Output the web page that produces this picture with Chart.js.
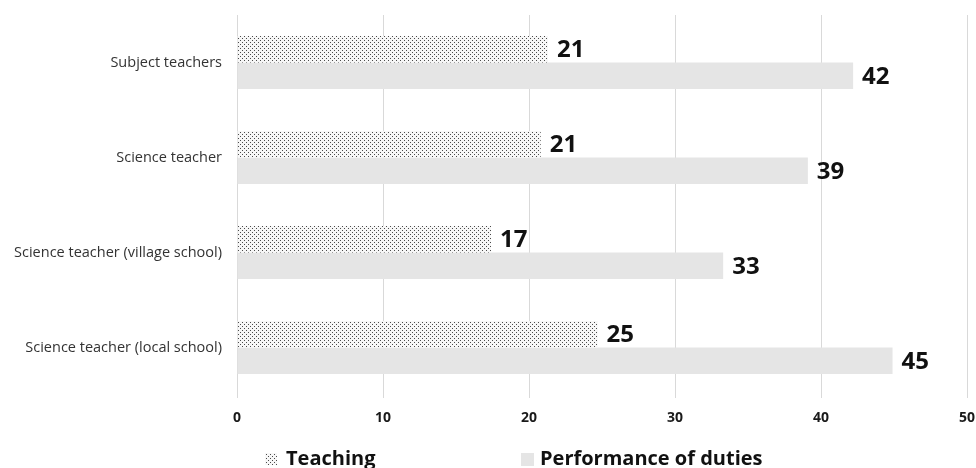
<!DOCTYPE html>
<html>
<head>
<meta charset="utf-8">
<script src="https://cdn.jsdelivr.net/npm/chart.js@4"></script>
<style>
  html, body { margin: 0; padding: 0; background: #fff; }
  #wrap { width: 976px; height: 468px; position: relative; }
</style>
</head>
<body>
<div id="wrap"><canvas id="chart"></canvas></div>
<script>
const CATEGORIES = [
  "Subject teachers",
  "Science teacher",
  "Science teacher (village school)",
  "Science teacher (local school)",
];
const TEACHING = [21.3, 20.8, 17.4, 24.7];
const DUTIES = [42.2, 39.1, 33.3, 44.9];
const X_TICKS = [0, 10, 20, 30, 40, 50];

const FONT = "'Open Sans', 'DejaVu Sans', sans-serif";

function dotPattern() {
  const c = document.createElement("canvas");
  c.width = 4; c.height = 4;
  const g = c.getContext("2d");
  g.fillStyle = "#f7f7f7";
  g.fillRect(0, 0, 4, 4);
  g.fillStyle = "#4a4a4a";
  g.fillRect(0, 0, 1, 1);
  g.fillRect(2, 2, 1, 1);
  return g.createPattern(c, "repeat");
}

const valueLabels = {
  id: "valueLabels",
  afterDatasetsDraw(chart) {
    const ctx = chart.ctx;
    ctx.save();
    ctx.font = `bold 24px ${FONT}`;
    ctx.fillStyle = "#111";
    ctx.textAlign = "left";
    ctx.textBaseline = "middle";
    chart.data.datasets.forEach((ds, i) => {
      chart.getDatasetMeta(i).data.forEach((bar, j) => {
        ctx.fillText(Math.round(ds.data[j]), bar.x + 9, bar.y + 1);
      });
    });
    ctx.restore();
  },
};

// legend drawn by hand so the wide gap between the two items can be kept
const bottomLegend = {
  id: "bottomLegend",
  afterDraw(chart) {
    const ctx = chart.ctx;
    const items = [
      { box: 265, size: 12, text: 286 },
      { box: 521, size: 13, text: 540 },
    ];
    ctx.save();
    ctx.font = `bold 20px ${FONT}`;
    ctx.textBaseline = "middle";
    chart.data.datasets.forEach((ds, i) => {
      const it = items[i];
      ctx.fillStyle = ds.backgroundColor;
      ctx.fillRect(it.box, 453, it.size, it.size);
      ctx.fillStyle = "#111";
      ctx.fillText(ds.label, it.text, 459);
    });
    ctx.restore();
  },
};

new Chart(document.getElementById("chart"), {
  type: "bar",
  data: {
    labels: CATEGORIES,
    datasets: [
      { label: "Teaching", data: TEACHING, backgroundColor: dotPattern(), categoryPercentage: 0.56, barPercentage: 1.0 },
      { label: "Performance of duties", data: DUTIES, backgroundColor: "#e5e5e5", categoryPercentage: 0.56, barPercentage: 1.0 },
    ],
  },
  options: {
    indexAxis: "y",
    responsive: true,
    maintainAspectRatio: false,
    animation: false,
    layout: { autoPadding: false, padding: { top: 15, right: 9, left: 0, bottom: 0 } },
    plugins: { legend: { display: false }, tooltip: { enabled: false } },
    scales: {
      x: {
        min: X_TICKS[0],
        max: X_TICKS[X_TICKS.length - 1],
        afterBuildTicks: s => { s.ticks = X_TICKS.map(v => ({ value: v })); },
        afterFit: s => { s.height = 73; s.paddingLeft = 0; s.paddingRight = 0; },
        border: { display: false },
        grid: { color: "#d9d9d9", lineWidth: 1, tickLength: 3 },
        ticks: { padding: 12, color: "#1a1a1a", font: { family: FONT, size: 14, weight: "bold" } },
      },
      y: {
        afterFit: s => { s.width = 237; s.paddingTop = 0; s.paddingBottom = 0; },
        border: { display: false },
        grid: { display: false, tickLength: 0 },
        ticks: { padding: 15, color: "#333", font: { family: FONT, size: 14.5 } },
      },
    },
  },
  plugins: [valueLabels, bottomLegend],
});
</script>
</body>
</html>
